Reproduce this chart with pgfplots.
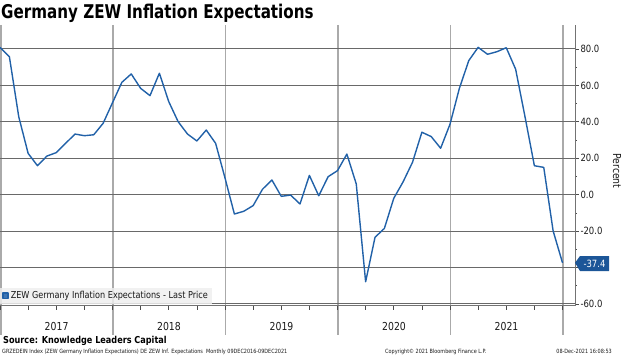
\documentclass[border=0pt]{standalone}
\usepackage{pgfplots}
\pgfplotsset{compat=1.18}
\usepackage{fontspec}
\setmainfont{DejaVu Sans}[FakeStretch=0.85]
\newfontfamily\titlefont{DejaVu Sans Bold}[FakeStretch=0.8]
\definecolor{zewblue}{RGB}{33,97,168}
\definecolor{boxblue}{RGB}{28,86,152}
\definecolor{hgrid}{RGB}{105,105,105}
\definecolor{vgrid}{RGB}{170,170,170}
\definecolor{txt}{RGB}{25,25,25}
\pgfplotstableread{
i val
0 80.9
1 75.8
2 42.8
3 22.7
4 15.9
5 21.2
6 23.1
7 28.2
8 33.3
9 32.4
10 32.9
11 39.2
12 50.5
13 61.7
14 66.3
15 58.4
16 54.4
17 66.7
18 51.1
19 40.1
20 33.3
21 29.5
22 35.5
23 28.2
24 9.2
25 -10.6
26 -9.1
27 -6.0
28 3.0
29 8.1
30 -0.9
31 -0.2
32 -5.1
33 10.6
34 -0.6
35 9.9
36 13.2
37 22.3
38 5.9
39 -47.8
40 -23.4
41 -18.5
42 -2.0
43 7.1
44 17.8
45 34.3
46 31.9
47 25.5
48 38.7
49 58.4
50 73.6
51 80.9
52 77.1
53 78.5
54 80.7
55 68.9
56 42.8
57 15.9
58 15.0
59 -19.9
60 -37.4
}\zewdata
\begin{document}
\begin{tikzpicture}[x=1bp,y=1bp]
\useasboundingbox (0,0) rectangle (624,355);
\coordinate (O) at (0bp,49.2bp);
% year separators
\foreach \xx in {0.8,113,225.5,338,450.5,563}{
  \draw[vgrid, line width=1.5bp] (\xx,355-25) -- (\xx,355-335);
}
\begin{axis}[
  at={(O)}, anchor=south west,
  x=9.375bp, y=1.8214bp,
  xmin=0, xmax=61.33, ymin=-61, ymax=93,
  axis x line*=bottom, axis y line*=right,
  axis line style={-, draw=black!55, line width=0.8bp},
  xtick={0,3,...,60}, xticklabels={},
  ytick={-60,-40,...,80},
  yticklabels={-60.0,{},-20.0,0.0,20.0,40.0,60.0,80.0},
  minor y tick num=1,
  tick align=outside,
  major tick length=4bp, minor tick length=2bp,
  tick style={draw=black!70, line width=0.7bp},
  yticklabel style={font=\fontsize{10}{12}\selectfont, text=txt, xshift=-2bp},
  ymajorgrids, major grid style={draw=hgrid, line width=1bp},
  legend style={at={(0,0)}, anchor=south west, yshift=2bp,
    fill=gray!13, fill opacity=0.85, text opacity=1, draw=none,
    inner xsep=2bp, inner ysep=1.5bp,
    font=\fontsize{9.6}{11}\selectfont, text=txt},
  legend image code/.code={\fill[zewblue] (0bp,-2.6bp) rectangle (5.2bp,2.6bp);},
  legend cell align=left,
]
\addplot[zewblue, line width=1.4bp, line join=round] table[x=i, y=val] {\zewdata};
\addlegendentry{ZEW Germany Inflation Expectations - Last Price}
\end{axis}
% last value tag
\fill[boxblue] (575,355-262.8) -- (580,355-256) -- (609,355-256) -- (609,355-271) -- (580,355-271) -- cycle;
\node[text=white, font=\fontsize{10}{12}\selectfont, anchor=center] at (594.5,355-263.5) {-37.4};
% right axis label
\node[rotate=-90, font=\fontsize{11}{13}\selectfont, text=txt] at (617,355-171) {Percent};
% year labels
\foreach \xx/\yy in {56.6/2017,169/2018,281.5/2019,394/2020,506.5/2021}{
  \node[font=\fontsize{11}{13}\selectfont, text=txt, anchor=base] at (\xx,355-330) {\yy};
}
% title
\node[anchor=base west, inner sep=0pt, font=\titlefont\fontsize{19}{22}\selectfont] at (1,355-18) {Germany ZEW Inflation Expectations};
% source
\node[anchor=base west, inner sep=0pt, font=\bfseries\fontsize{9.6}{11}\selectfont] at (3,355-343.5) {Source: Knowledge Leaders Capital};
% footer
\node[anchor=base west, inner sep=0pt, font=\fontsize{5.8}{7}\selectfont, text=txt] at (2,355-353) {GRZEDEIN Index (ZEW Germany Inflation Expectations) DE ZEW Inf. Expectations\ \ Monthly 09DEC2016-09DEC2021};
\node[anchor=base west, inner sep=0pt, font=\fontsize{5.8}{7}\selectfont, text=txt] at (385,355-353) {Copyright© 2021 Bloomberg Finance L.P.};
\node[anchor=base east, inner sep=0pt, font=\fontsize{5.8}{7}\selectfont, text=txt] at (612,355-353) {08-Dec-2021 16:08:53};
\end{tikzpicture}
\end{document}
